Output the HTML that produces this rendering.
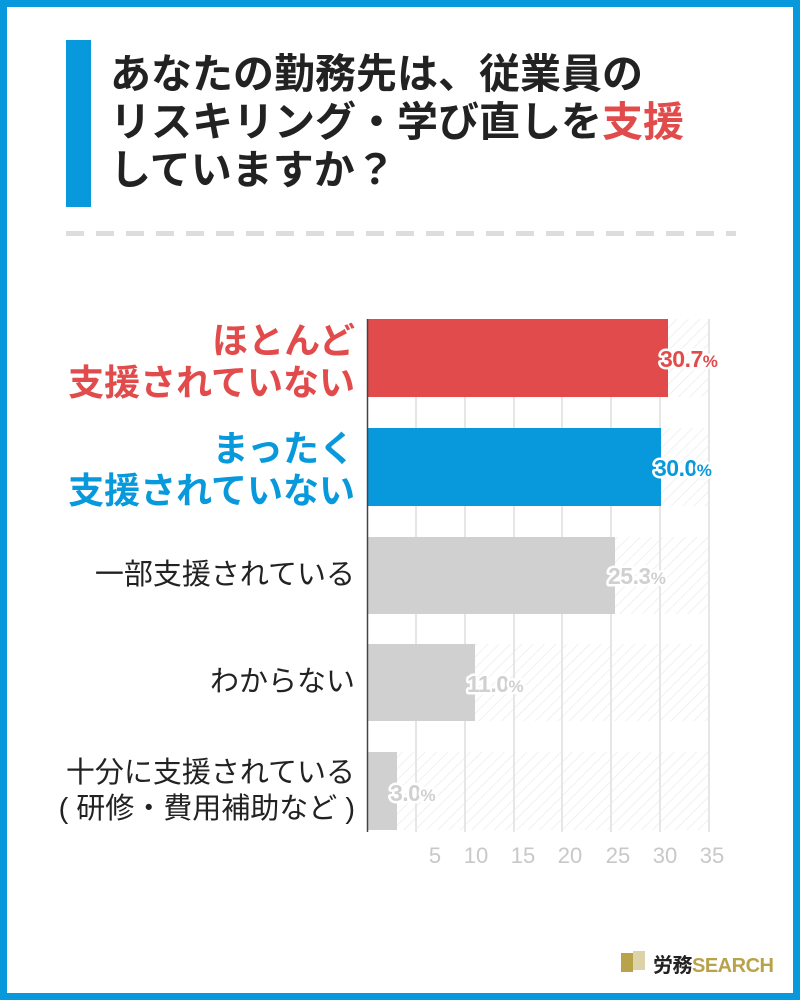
<!DOCTYPE html>
<html><head><meta charset="utf-8"><style>
body{margin:0;width:800px;height:1000px;font-family:"Liberation Sans","Noto Sans CJK JP",sans-serif;}
.frame{position:absolute;left:0;top:0;width:786px;height:986px;border:7px solid #0899dc;background:#fff;}
.t{position:absolute;left:110px;font-size:41px;font-weight:bold;color:#222;line-height:48px;white-space:nowrap}
.lab{position:absolute;right:445px;text-align:right;font-size:29px;line-height:36px;color:#222;white-space:nowrap}
.tick{position:absolute;top:843px;font-size:22px;color:#c8c8c8;width:30px;text-align:center}
</style></head><body>
<div class="frame"></div>
<div style="position:absolute;left:66px;top:40px;width:25px;height:167px;background:#0899dc"></div>
<div class="t" style="top:50px">あなたの勤務先は、従業員の</div>
<div class="t" style="top:98px">リスキリング・学び直しを<span style="color:#e24b4b">支援</span></div>
<div class="t" style="top:146px">していますか？</div>
<div style="position:absolute;left:66px;top:231px;width:670px;height:5px;background:repeating-linear-gradient(90deg,#ddd 0 18px,transparent 18px 30px)"></div>
<svg style="position:absolute;left:0;top:0" width="800" height="1000">
<defs><pattern id="h" width="8" height="8" patternUnits="userSpaceOnUse" patternTransform="rotate(45)"><line x1="0" y1="0" x2="0" y2="8" stroke="#ececec" stroke-width="1.5"/></pattern></defs>
<g fill="url(#h)"><rect x="367" y="319" width="342" height="78"/><rect x="367" y="428" width="342" height="78"/><rect x="367" y="537" width="342" height="77"/><rect x="367" y="644" width="342" height="77"/><rect x="367" y="752" width="342" height="78"/></g>
<g stroke="#e6e6e6" stroke-width="2"><line x1="416" y1="319" x2="416" y2="832"/><line x1="465" y1="319" x2="465" y2="832"/><line x1="514" y1="319" x2="514" y2="832"/><line x1="562" y1="319" x2="562" y2="832"/><line x1="611" y1="319" x2="611" y2="832"/><line x1="660" y1="319" x2="660" y2="832"/><line x1="709" y1="319" x2="709" y2="832"/></g>
<rect x="367" y="319" width="301" height="78" fill="#e24b4b"/>
<rect x="367" y="428" width="294" height="78" fill="#0899dc"/>
<rect x="367" y="537" width="248" height="77" fill="#d0d0d0"/>
<rect x="367" y="644" width="108" height="77" fill="#d0d0d0"/>
<rect x="367" y="752" width="30" height="78" fill="#d0d0d0"/>
<line x1="367.5" y1="319" x2="367.5" y2="832" stroke="#444" stroke-width="1.5"/>
<g font-family="Liberation Sans,sans-serif" font-weight="bold" font-size="23" stroke="#fff" stroke-width="5" paint-order="stroke" stroke-linejoin="round" letter-spacing="-0.5">
<text x="660" y="367" fill="#e24b4b">30.7<tspan font-size="17">%</tspan></text>
<text x="654" y="476" fill="#0899dc">30.0<tspan font-size="17">%</tspan></text>
<text x="608" y="584" fill="#d0d0d0">25.3<tspan font-size="17">%</tspan></text>
<text x="467" y="692" fill="#d0d0d0">11.0<tspan font-size="17">%</tspan></text>
<text x="390" y="801" fill="#d0d0d0">3.0<tspan font-size="17">%</tspan></text>
</g>
</svg>
<div class="lab" style="top:320px;color:#e24b4b;font-weight:bold;font-size:36px;line-height:42px">ほとんど<br>支援されていない</div>
<div class="lab" style="top:428px;color:#0899dc;font-weight:bold;font-size:36px;line-height:42px">まったく<br>支援されていない</div>
<div class="lab" style="top:557px">一部支援されている</div>
<div class="lab" style="top:664px">わからない</div>
<div class="lab" style="top:755px">十分に支援されている<br>( 研修・費用補助など )</div>
<div class="tick" style="left:420px">5</div><div class="tick" style="left:461px">10</div><div class="tick" style="left:508px">15</div><div class="tick" style="left:555px">20</div><div class="tick" style="left:603px">25</div><div class="tick" style="left:650px">30</div><div class="tick" style="left:697px">35</div>
<div style="position:absolute;left:621px;top:953px;width:12px;height:19px;background:#b8a24a"></div>
<div style="position:absolute;left:633px;top:951px;width:12px;height:19px;background:#ddd3a8"></div>
<div style="position:absolute;left:653px;top:949px;font-size:20px;font-weight:bold;color:#222;letter-spacing:-0.5px">労務<span style="color:#b8a24a">SEARCH</span></div>
</body></html>
